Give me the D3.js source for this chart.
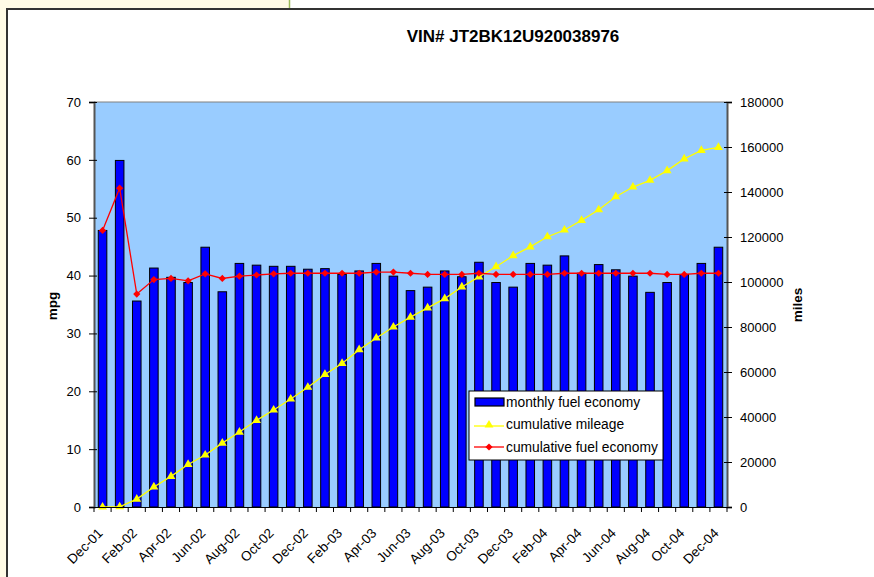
<!DOCTYPE html>
<html>
<head>
<meta charset="utf-8">
<script src="https://cdn.jsdelivr.net/npm/d3@7"></script>
<style>
  body { margin: 0; background: #fff; }
  svg { display: block; font-family: 'Liberation Sans', Arial, sans-serif; }
</style>
</head>
<body>
<div id="chart"></div>
<script>
const months = ['Dec-01', 'Jan-02', 'Feb-02', 'Mar-02', 'Apr-02', 'May-02', 'Jun-02', 'Jul-02', 'Aug-02', 'Sep-02',
  'Oct-02', 'Nov-02', 'Dec-02', 'Jan-03', 'Feb-03', 'Mar-03', 'Apr-03', 'May-03', 'Jun-03', 'Jul-03',
  'Aug-03', 'Sep-03', 'Oct-03', 'Nov-03', 'Dec-03', 'Jan-04', 'Feb-04', 'Mar-04', 'Apr-04', 'May-04',
  'Jun-04', 'Jul-04', 'Aug-04', 'Sep-04', 'Oct-04', 'Nov-04', 'Dec-04']

const monthlyMpg = [47.8, 59.9, 35.6, 41.3, 39.7, 38.8, 44.9, 37.2, 42.1, 41.8,
  41.6, 41.6, 41.1, 41.2, 40.2, 40.8, 42.1, 39.9, 37.4, 38.0,
  40.8, 39.8, 42.3, 38.8, 38.0, 42.1, 41.8, 43.4, 40.4, 41.9,
  41.0, 39.9, 37.1, 38.8, 40.2, 42.1, 44.9]

const cumulativeMiles = [0, 100, 3500, 8900, 13600, 18900, 23100, 28400, 33300, 38500,
  43100, 48000, 53200, 58900, 63800, 69900, 75100, 80000, 84400, 88500,
  92600, 97800, 102300, 106800, 111700, 115600, 120100, 123100, 127400, 132100,
  137900, 142200, 145200, 149500, 154700, 158500, 159800]

const cumulativeMpg = [47.8, 55.1, 36.8, 39.3, 39.5, 39.1, 40.3, 39.5, 39.9, 40.1,
  40.3, 40.4, 40.4, 40.4, 40.4, 40.4, 40.6, 40.6, 40.4, 40.2,
  40.2, 40.2, 40.4, 40.2, 40.2, 40.2, 40.2, 40.4, 40.4, 40.4,
  40.4, 40.4, 40.4, 40.2, 40.2, 40.4, 40.4]

const mpgTicks = [0, 10, 20, 30, 40, 50, 60, 70]
const milesTicks = [0, 20000, 40000, 60000, 80000, 100000, 120000, 140000, 160000, 180000]

const W = 874, H = 577
const plot = { left: 94, right: 727, top: 102, bottom: 507 }

const svg = d3.select('#chart').append('svg')
  .attr('width', W)
  .attr('height', H)

// page background bits around the chart frame
svg.append('rect').attr('x', 0).attr('y', 0).attr('width', 289).attr('height', 9).attr('fill', '#fffbe6')
svg.append('rect').attr('x', 0).attr('y', 0).attr('width', 6).attr('height', H).attr('fill', '#fffbe6')
svg.append('line').attr('x1', 289.5).attr('x2', 289.5).attr('y1', 0).attr('y2', 9).attr('stroke', '#9bbb59').attr('stroke-width', 1.5)
svg.append('line').attr('x1', 6).attr('x2', W).attr('y1', 9).attr('y2', 9).attr('stroke', '#333').attr('stroke-width', 2)
svg.append('line').attr('x1', 7).attr('x2', 7).attr('y1', 9).attr('y2', H).attr('stroke', '#333').attr('stroke-width', 2)

svg.append('text')
  .attr('x', 513).attr('y', 42)
  .attr('text-anchor', 'middle')
  .style('font-size', '17px').style('font-weight', 'bold')
  .text('VIN# JT2BK12U920038976')

const x = d3.scaleBand().domain(months).range([plot.left, plot.right])
const yL = d3.scaleLinear().domain([0, 70]).range([plot.bottom, plot.top])
const yR = d3.scaleLinear().domain([0, 180000]).range([plot.bottom, plot.top])

svg.append('rect')
  .attr('x', plot.left).attr('y', plot.top)
  .attr('width', plot.right - plot.left).attr('height', plot.bottom - plot.top)
  .attr('fill', '#99ccff')
svg.append('line')
  .attr('x1', plot.left).attr('x2', plot.right).attr('y1', plot.top).attr('y2', plot.top)
  .attr('stroke', '#808080')

// bars
const bw = x.bandwidth() * 0.5
svg.append('g').selectAll('rect')
  .data(monthlyMpg)
  .join('rect')
  .attr('x', (d, i) => x(months[i]) + (x.bandwidth() - bw) / 2)
  .attr('y', (d) => yL(d))
  .attr('width', bw)
  .attr('height', (d) => yL(0) - yL(d))
  .attr('fill', '#0000ff')
  .attr('stroke', '#000')
  .attr('stroke-width', 1)

const cx = (i) => x(months[i]) + x.bandwidth() / 2

// cumulative mileage
svg.append('path')
  .datum(cumulativeMiles)
  .attr('fill', 'none')
  .attr('stroke', '#ffff00')
  .attr('stroke-width', 1.3)
  .attr('d', d3.line().x((d, i) => cx(i)).y((d) => yR(d)))
svg.append('g').selectAll('path')
  .data(cumulativeMiles)
  .join('path')
  .attr('transform', (d, i) => `translate(${cx(i)},${yR(d)})`)
  .attr('d', d3.symbol(d3.symbolTriangle, 34))
  .attr('fill', '#ffff00')

// cumulative mpg
svg.append('path')
  .datum(cumulativeMpg)
  .attr('fill', 'none')
  .attr('stroke', '#ff0000')
  .attr('stroke-width', 1.3)
  .attr('d', d3.line().x((d, i) => cx(i)).y((d) => yL(d)))
svg.append('g').selectAll('path')
  .data(cumulativeMpg)
  .join('path')
  .attr('transform', (d, i) => `translate(${cx(i)},${yL(d)}) rotate(45)`)
  .attr('d', d3.symbol(d3.symbolSquare, 26))
  .attr('fill', '#ff0000')

// axes
const leftAxis = svg.append('g')
  .attr('transform', `translate(${plot.left},0)`)
  .call(d3.axisLeft(yL).tickValues(mpgTicks).tickSize(5).tickPadding(8))
const rightAxis = svg.append('g')
  .attr('transform', `translate(${plot.right},0)`)
  .call(d3.axisRight(yR).tickValues(milesTicks).tickFormat(d3.format('d')).tickSize(5).tickPadding(8))
const bottomAxis = svg.append('g')
  .attr('transform', `translate(0,${plot.bottom})`)
  .call(d3.axisBottom(x).tickSize(0).tickFormat((d, i) => i % 2 === 0 ? d : ''))

for (const ax of [leftAxis, rightAxis]) {
  ax.select('.domain').attr('stroke', '#555').attr('stroke-width', 2)
  ax.selectAll('.tick line').attr('stroke', '#000')
  ax.selectAll('.tick text').style('font-size', '13px').attr('fill', '#000')
}
rightAxis.selectAll('.tick line').attr('x1', -3)
leftAxis.selectAll('.tick line').attr('x1', 3)

bottomAxis.select('.domain').attr('stroke', '#000')
bottomAxis.selectAll('.tick text')
  .style('font-size', '13.5px')
  .attr('fill', '#000')
  .attr('text-anchor', 'end')
  .attr('transform', 'translate(1,27) rotate(-45)')
  .attr('dy', 0)
  .attr('y', 0)
// category boundary ticks
svg.append('g').selectAll('line')
  .data(months.concat(['end']))
  .join('line')
  .attr('x1', (d, i) => i < months.length ? x(d) : plot.right)
  .attr('x2', (d, i) => i < months.length ? x(d) : plot.right)
  .attr('y1', plot.bottom)
  .attr('y2', plot.bottom + 5)
  .attr('stroke', '#000')

svg.append('text')
  .attr('transform', `translate(57,306) rotate(-90)`)
  .attr('text-anchor', 'middle')
  .style('font-size', '13.5px').style('font-weight', 'bold')
  .text('mpg')
svg.append('text')
  .attr('transform', `translate(802,305) rotate(-90)`)
  .attr('text-anchor', 'middle')
  .style('font-size', '13.5px').style('font-weight', 'bold')
  .text('miles')

// legend
const legend = svg.append('g').attr('transform', 'translate(469,391)')
legend.append('rect')
  .attr('width', 194).attr('height', 69)
  .attr('fill', '#fff').attr('stroke', '#000')
legend.append('rect')
  .attr('x', 6).attr('y', 7).attr('width', 29).attr('height', 8)
  .attr('fill', '#0000ff').attr('stroke', '#000').attr('stroke-width', 1.2)
legend.append('line').attr('x1', 5).attr('x2', 35).attr('y1', 35).attr('y2', 35).attr('stroke', '#ffff00').attr('stroke-width', 1.3)
legend.append('path').attr('transform', 'translate(20,34)').attr('d', d3.symbol(d3.symbolTriangle, 34)).attr('fill', '#ffff00')
legend.append('line').attr('x1', 5).attr('x2', 35).attr('y1', 56).attr('y2', 56).attr('stroke', '#ff0000').attr('stroke-width', 1.3)
legend.append('path').attr('transform', 'translate(20,56) rotate(45)').attr('d', d3.symbol(d3.symbolSquare, 26)).attr('fill', '#ff0000')
const legendLabels = ['monthly fuel economy', 'cumulative mileage', 'cumulative fuel economy']
legend.selectAll('text.lbl')
  .data(legendLabels)
  .join('text')
  .attr('class', 'lbl')
  .attr('x', 37)
  .attr('y', (d, i) => 11 + i * 22.5)
  .attr('dy', '0.35em')
  .style('font-size', '13.8px')
  .text((d) => d)
</script>
</body>
</html>
